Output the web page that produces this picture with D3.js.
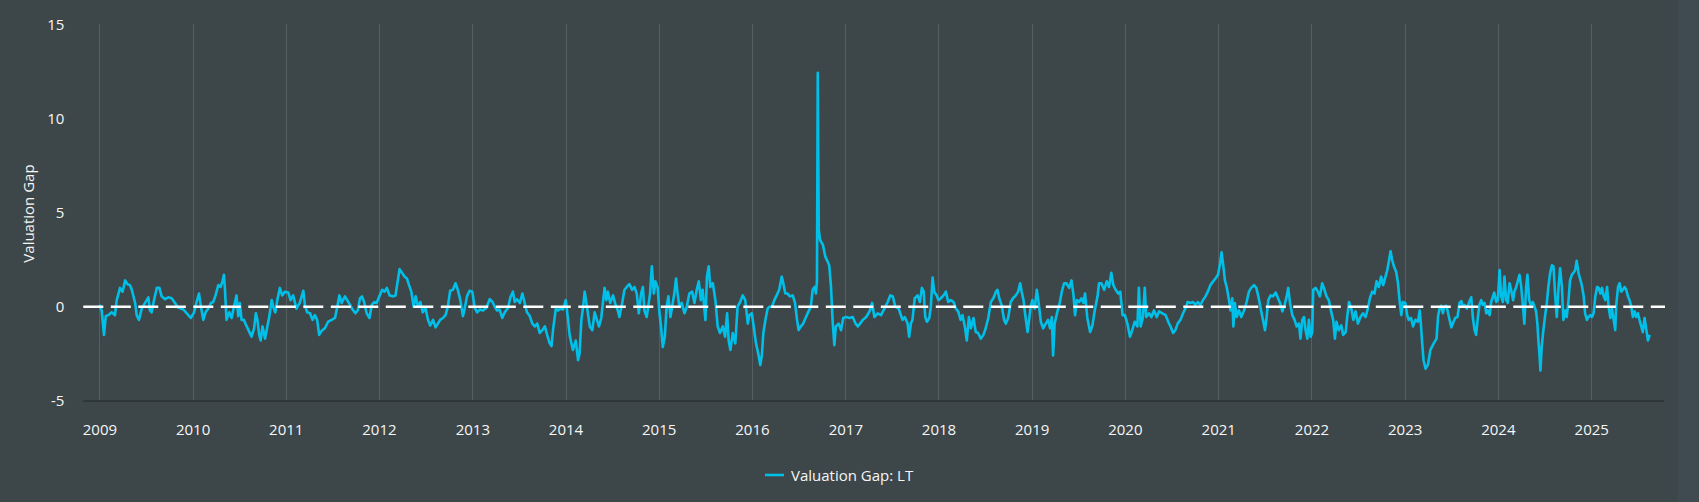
<!DOCTYPE html>
<html lang="en">
<head>
<meta charset="UTF-8">
<title>Valuation Gap: LT</title>
<script src="https://cdn.jsdelivr.net/npm/d3@7"></script>
<style>
  html, body { margin: 0; padding: 0; background: #3d4749; overflow: hidden; }
  svg { display: block; font-family: "Open Sans", "Noto Sans", sans-serif; }
</style>
</head>
<body>
<svg id="chart" width="1699" height="502"></svg>
<script>
// values, roughly every 1-2 weeks
const dates = [
  "2009-01-01","2009-01-10","2009-01-19","2009-01-26","2009-02-05","2009-02-18","2009-03-03","2009-03-10","2009-03-23","2009-04-02","2009-04-12","2009-04-21","2009-05-01","2009-05-08","2009-05-21","2009-05-27","2009-06-05","2009-06-16","2009-06-29","2009-07-12","2009-07-18","2009-07-25","2009-08-03","2009-08-14","2009-08-24","2009-09-02","2009-09-15","2009-09-28","2009-10-11","2009-10-24","2009-11-06","2009-11-26","2009-12-12","2009-12-25",
  "2010-01-07","2010-01-17","2010-01-26","2010-02-03","2010-02-12","2010-02-21","2010-03-04","2010-03-14","2010-03-23","2010-04-01","2010-04-12","2010-04-21","2010-04-29","2010-05-04","2010-05-08","2010-05-14","2010-05-25","2010-06-03","2010-06-12","2010-06-22","2010-06-29","2010-07-05","2010-07-12","2010-07-21","2010-08-01","2010-08-10","2010-08-20","2010-08-30","2010-09-06","2010-09-12","2010-09-19","2010-09-25","2010-10-02","2010-10-12","2010-10-21","2010-10-29","2010-11-07","2010-11-13","2010-11-21","2010-11-29","2010-12-09","2010-12-18","2010-12-29",
  "2011-01-11","2011-01-20","2011-01-30","2011-02-12","2011-02-25","2011-03-11","2011-03-17","2011-03-26","2011-04-06","2011-04-16","2011-04-25","2011-05-04","2011-05-12","2011-05-21","2011-06-03","2011-06-16","2011-06-30","2011-07-13","2011-07-19","2011-07-30","2011-08-08","2011-08-21","2011-09-03","2011-09-10","2011-09-20","2011-10-01","2011-10-10","2011-10-19","2011-10-27","2011-11-05","2011-11-14","2011-11-25","2011-12-04","2011-12-14","2011-12-23",
  "2012-01-04","2012-01-14","2012-01-23","2012-02-01","2012-02-12","2012-02-25","2012-03-06","2012-03-15","2012-03-22","2012-04-01","2012-04-11","2012-04-20","2012-04-28","2012-05-07","2012-05-16","2012-05-24","2012-06-02","2012-06-11","2012-06-21","2012-07-02","2012-07-11","2012-07-20","2012-07-31","2012-08-10","2012-08-19","2012-08-28","2012-09-08","2012-09-18","2012-09-27","2012-10-06","2012-10-17","2012-10-27","2012-11-05","2012-11-15","2012-11-25","2012-12-02","2012-12-11","2012-12-21",
  "2013-01-01","2013-01-10","2013-01-20","2013-01-30","2013-02-12","2013-02-25","2013-03-10","2013-03-21","2013-03-30","2013-04-08","2013-04-18","2013-04-28","2013-05-08","2013-05-21","2013-05-30","2013-06-09","2013-06-16","2013-06-25","2013-07-06","2013-07-16","2013-07-25","2013-08-03","2013-08-14","2013-08-24","2013-09-03","2013-09-12","2013-09-22","2013-10-02","2013-10-12","2013-10-21","2013-10-31","2013-11-07","2013-11-13","2013-11-24","2013-12-03","2013-12-12","2013-12-22",
  "2014-01-02","2014-01-11","2014-01-17","2014-01-24","2014-01-30","2014-02-10","2014-02-19","2014-02-25","2014-03-04","2014-03-11","2014-03-17","2014-03-26","2014-04-06","2014-04-16","2014-04-25","2014-05-04","2014-05-12","2014-05-21","2014-06-03","2014-06-10","2014-06-16","2014-06-25","2014-07-06","2014-07-16","2014-07-25","2014-07-31","2014-08-11","2014-08-20","2014-08-29","2014-09-08","2014-09-19","2014-09-28","2014-10-07","2014-10-15","2014-10-24","2014-10-31","2014-11-06","2014-11-15","2014-11-23","2014-11-28","2014-12-05","2014-12-13","2014-12-19","2014-12-28",
  "2015-01-04","2015-01-10","2015-01-17","2015-01-25","2015-02-01","2015-02-08","2015-02-16","2015-02-25","2015-03-03","2015-03-10","2015-03-16","2015-03-23","2015-04-01","2015-04-12","2015-04-21","2015-05-01","2015-05-12","2015-05-21","2015-05-30","2015-06-07","2015-06-15","2015-06-22","2015-07-03","2015-07-09","2015-07-16","2015-07-22","2015-08-01","2015-08-11","2015-08-20","2015-08-29","2015-09-09","2015-09-18","2015-09-26","2015-10-02","2015-10-09","2015-10-18","2015-10-28","2015-11-06","2015-11-16","2015-11-26","2015-12-06","2015-12-16","2015-12-22",
  "2016-01-01","2016-01-08","2016-01-17","2016-01-26","2016-02-03","2016-02-09","2016-02-15","2016-02-23","2016-03-03","2016-03-09","2016-03-20","2016-03-29","2016-04-07","2016-04-17","2016-04-27","2016-05-03","2016-05-11","2016-05-20","2016-05-29","2016-06-09","2016-06-18","2016-06-26","2016-07-02","2016-07-11","2016-07-20","2016-07-31","2016-08-10","2016-08-19","2016-08-26","2016-09-03","2016-09-08","2016-09-12","2016-09-15","2016-09-19","2016-09-24","2016-10-05","2016-10-15","2016-10-24","2016-10-30","2016-11-06","2016-11-12","2016-11-19","2016-11-25","2016-12-06","2016-12-15","2016-12-24",
  "2017-01-04","2017-01-17","2017-01-30","2017-02-10","2017-02-19","2017-02-28","2017-03-11","2017-03-24","2017-04-06","2017-04-16","2017-04-25","2017-05-08","2017-05-21","2017-06-03","2017-06-16","2017-06-26","2017-07-06","2017-07-16","2017-07-29","2017-08-13","2017-08-22","2017-09-02","2017-09-08","2017-09-15","2017-09-21","2017-09-30","2017-10-11","2017-10-20","2017-10-28","2017-11-04","2017-11-10","2017-11-17","2017-11-26","2017-12-02","2017-12-09","2017-12-15","2017-12-25",
  "2018-01-01","2018-01-10","2018-01-21","2018-01-30","2018-02-08","2018-02-18","2018-03-01","2018-03-10","2018-03-19","2018-03-29","2018-04-05","2018-04-14","2018-04-22","2018-04-30","2018-05-08","2018-05-18","2018-05-27","2018-06-05","2018-06-16","2018-06-26","2018-07-05","2018-07-15","2018-07-25","2018-08-04","2018-08-14","2018-08-20","2018-08-27","2018-09-05","2018-09-15","2018-09-22","2018-10-01","2018-10-11","2018-10-20","2018-10-31","2018-11-09","2018-11-17","2018-11-23","2018-11-30","2018-12-06","2018-12-16","2018-12-22","2018-12-28",
  "2019-01-04","2019-01-13","2019-01-21","2019-01-27","2019-02-06","2019-02-15","2019-02-25","2019-03-06","2019-03-14","2019-03-21","2019-03-26","2019-04-01","2019-04-12","2019-04-21","2019-04-29","2019-05-08","2019-05-17","2019-05-28","2019-06-06","2019-06-14","2019-06-20","2019-06-27","2019-07-06","2019-07-15","2019-07-23","2019-07-29","2019-08-07","2019-08-18","2019-08-27","2019-09-05","2019-09-16","2019-09-22","2019-10-01","2019-10-12","2019-10-22","2019-10-31","2019-11-09","2019-11-17","2019-11-26","2019-12-06","2019-12-14","2019-12-23",
  "2020-01-01","2020-01-11","2020-01-21","2020-01-30","2020-02-09","2020-02-19","2020-02-25","2020-03-03","2020-03-12","2020-03-19","2020-03-25","2020-04-05","2020-04-14","2020-04-24","2020-05-05","2020-05-14","2020-05-27","2020-06-09","2020-06-22","2020-06-28","2020-07-08","2020-07-17","2020-07-26","2020-08-06","2020-08-16","2020-08-25","2020-09-03","2020-09-14","2020-09-24","2020-10-03","2020-10-13","2020-10-23","2020-11-02","2020-11-12","2020-11-21","2020-12-01","2020-12-12","2020-12-21","2020-12-31",
  "2021-01-08","2021-01-14","2021-01-21","2021-01-27","2021-02-03","2021-02-12","2021-02-18","2021-02-25","2021-03-01","2021-03-07","2021-03-14","2021-03-23","2021-04-01","2021-04-12","2021-04-22","2021-05-01","2021-05-10","2021-05-21","2021-05-30","2021-06-07","2021-06-16","2021-06-25","2021-07-03","2021-07-09","2021-07-16","2021-07-25","2021-08-03","2021-08-14","2021-08-23","2021-08-31","2021-09-09","2021-09-18","2021-09-26","2021-10-02","2021-10-09","2021-10-18","2021-10-27","2021-11-04","2021-11-13","2021-11-19","2021-11-26","2021-12-03","2021-12-09","2021-12-16","2021-12-22","2021-12-29",
  "2022-01-04","2022-01-08","2022-01-17","2022-01-26","2022-02-03","2022-02-12","2022-02-21","2022-03-01","2022-03-10","2022-03-19","2022-03-27","2022-04-03","2022-04-09","2022-04-18","2022-04-28","2022-05-05","2022-05-15","2022-05-21","2022-05-28","2022-06-06","2022-06-14","2022-06-23","2022-07-02","2022-07-12","2022-07-22","2022-08-01","2022-08-10","2022-08-18","2022-08-27","2022-09-05","2022-09-13","2022-09-22","2022-10-01","2022-10-09","2022-10-18","2022-10-25","2022-10-31","2022-11-07","2022-11-13","2022-11-20","2022-11-29","2022-12-06","2022-12-12","2022-12-19","2022-12-25",
  "2023-01-04","2023-01-11","2023-01-17","2023-01-26","2023-02-03","2023-02-12","2023-02-22","2023-03-01","2023-03-05","2023-03-10","2023-03-16","2023-03-24","2023-04-02","2023-04-12","2023-04-25","2023-05-06","2023-05-12","2023-05-18","2023-05-24","2023-05-31","2023-06-05","2023-06-13","2023-06-18","2023-06-26","2023-07-03","2023-07-09","2023-07-18","2023-07-27","2023-08-04","2023-08-11","2023-08-17","2023-08-24","2023-09-02","2023-09-11","2023-09-19","2023-09-25","2023-10-02","2023-10-08","2023-10-15","2023-10-21","2023-10-28","2023-11-03","2023-11-10","2023-11-17","2023-11-23","2023-11-30","2023-12-06","2023-12-13","2023-12-18","2023-12-26",
  "2024-01-01","2024-01-08","2024-01-14","2024-01-21","2024-01-27","2024-02-03","2024-02-09","2024-02-16","2024-02-22","2024-03-01","2024-03-06","2024-03-13","2024-03-19","2024-03-26","2024-04-01","2024-04-08","2024-04-14","2024-04-21","2024-04-26","2024-05-03","2024-05-09","2024-05-17","2024-05-24","2024-05-30","2024-06-04","2024-06-08","2024-06-12","2024-06-16","2024-06-21","2024-06-28","2024-07-04","2024-07-11","2024-07-17","2024-07-24","2024-07-31","2024-08-06","2024-08-13","2024-08-19","2024-08-26","2024-09-01","2024-09-08","2024-09-14","2024-09-21","2024-09-27","2024-10-04","2024-10-10","2024-10-17","2024-10-23","2024-10-30","2024-11-05","2024-11-12","2024-11-18","2024-11-25","2024-12-02","2024-12-08","2024-12-15","2024-12-21","2024-12-28",
  "2025-01-04","2025-01-10","2025-01-17","2025-01-24","2025-01-30","2025-02-06","2025-02-12","2025-02-19","2025-02-25","2025-03-04","2025-03-10","2025-03-17","2025-03-23","2025-03-30","2025-04-05","2025-04-09","2025-04-16","2025-04-22","2025-04-29","2025-05-05","2025-05-12","2025-05-18","2025-05-25","2025-05-31","2025-06-07","2025-06-13","2025-06-20","2025-06-26","2025-07-03","2025-07-09","2025-07-16","2025-07-22","2025-07-29","2025-08-05","2025-08-11","2025-08-18"
];

const gapLT = [
  0.1,-0.2,-1.5,-0.5,-0.45,-0.3,-0.45,0.35,1.0,0.8,1.4,1.2,1.15,0.9,0.2,-0.45,-0.7,-0.1,0.2,0.5,-0.2,-0.3,0.35,1.0,1.0,0.55,0.4,0.5,0.45,0.2,-0.05,-0.15,-0.4,-0.6,
  -0.3,0.25,0.7,0,-0.7,-0.3,-0.1,0.2,0.25,0.6,1.15,1.05,1.4,1.7,0.9,-0.7,-0.3,-0.6,0,0.6,-0.5,0.2,-0.7,-0.7,-1.05,-1.3,-1.6,-1.15,-0.35,-0.7,-1.5,-1.8,-1.05,-1.7,-1.05,-0.5,0.35,0,-0.3,0.35,1.0,0.6,0.8,
  0.75,0.35,0.6,-0.1,0.2,0.85,0.1,-0.3,-0.35,-0.7,-0.45,-0.7,-1.5,-1.3,-1.15,-0.8,-0.7,-0.6,-0.2,0.6,0.2,0.55,0.25,0.1,-0.15,-0.35,-0.2,0.45,0.55,0.2,-0.35,-0.6,0.1,0.25,0.2,
  0.6,0.9,0.8,1.0,0.6,0.55,0.6,1.4,2.0,1.8,1.6,1.5,1.15,0.8,0,0.55,0,0.25,-0.3,-0.1,-0.7,-1.0,-0.7,-1.1,-0.9,-0.7,-0.6,-0.45,0,0.85,0.9,1.25,0.9,0.35,-0.5,-0.1,0.55,0.85,
  0.8,-0.05,-0.3,-0.15,-0.2,-0.05,0.4,0.25,0,-0.2,-0.15,-0.6,-0.3,-0.05,0.5,0.8,0.25,0.4,0.2,0.7,0.2,-0.3,-0.5,-0.9,-1.05,-0.9,-1.4,-1.25,-1.05,-1.5,-1.95,-2.1,-1.25,-0.1,-0.2,-0.1,-0.15,
  0.35,-0.7,-1.5,-1.95,-2.3,-1.8,-2.85,-2.5,-0.7,0,0.8,0,-1.05,-1.25,-0.3,-0.7,-1.05,-0.6,1.0,0.35,0.8,0.2,0.6,0.1,-0.2,-0.55,0.2,0.9,1.05,1.2,0.9,1.05,0.7,-0.35,0.7,1.05,-0.2,-0.55,0.2,0.7,2.15,0.7,1.35,1.0,
  -0.35,-1.05,-2.15,-1.6,0,0.55,-0.55,0.2,0.7,1.5,0.7,0,0.2,-0.35,0,0.7,0.8,0.2,0.9,1.35,0.35,0.9,-0.7,1.6,2.15,1.05,1.25,0.35,-1.05,-1.4,-1.05,-1.6,-0.35,-1.8,-2.3,-1.4,-1.95,0,0.25,0.6,0.35,-0.9,-0.45,
  -0.35,-1.05,-1.95,-2.5,-3.1,-2.6,-1.4,-0.7,-0.1,0,0,0.35,0.6,0.9,1.6,1.25,0.7,0.7,0.55,0.6,0.2,-0.7,-1.25,-1.05,-0.9,-0.55,-0.25,0,0.9,1.05,0.7,1.4,12.45,4.1,3.55,3.3,2.65,2.4,2.2,1.05,-0.7,-2.05,-1.05,-0.9,-1.25,-0.6,
  -0.55,-0.6,-0.55,-0.9,-1.05,-0.9,-0.7,-0.55,-0.25,0.2,-0.55,-0.35,-0.45,-0.1,0.25,0.6,0.55,0,-0.1,-0.7,-0.55,-0.9,-1.6,-0.9,-0.7,0.45,0.6,0.25,1.0,0.8,-0.55,-0.8,-0.6,0,1.55,0.8,0.6,
  0.35,0.45,0.6,0.8,0.25,0.35,0.25,-0.1,-0.25,-0.7,-0.45,-1.05,-1.8,-0.55,-1.15,-0.6,-1.35,-1.4,-1.7,-1.5,-1.15,-0.6,0.25,0.45,0.8,0.9,0.45,0.1,-0.7,-0.9,-0.6,0.25,0.45,0.6,0.8,1.25,0.8,0.35,-0.35,-1.35,-0.7,0,
  0.35,-0.1,0.9,0.35,-0.8,-1.15,-0.9,-0.7,-1.15,-0.55,-2.6,-0.9,-0.25,0.2,0.8,1.25,1.25,1.0,1.4,0.6,-0.45,0.35,0.25,0.45,0.2,0.7,-0.6,-1.35,-1.0,-0.2,0.55,1.25,1.25,0.9,1.35,1.05,1.8,1.15,0.9,0.7,0.8,-0.45,
  -0.45,-0.9,-1.6,-1.25,-0.8,-1.05,1.0,-1.05,-0.55,1.0,-0.55,-0.35,-0.55,-0.2,-0.55,-0.25,-0.35,-0.45,-0.9,-1.05,-1.4,-1.25,-0.9,-0.7,-0.35,-0.1,0.25,0.2,0.25,0.1,0.25,0.1,0.35,0.55,0.8,1.15,1.35,1.5,1.7,
  2.3,2.9,2.15,1.4,1.05,0.35,-0.2,0.45,-1.05,0.2,-0.55,-0.2,-0.55,-0.2,0.25,0.8,1.0,1.15,1.0,0.55,-0.1,-0.7,-1.25,-0.6,0.35,0.6,0.55,0.75,0.45,0.2,-0.25,0.1,0.55,1.0,0.2,-0.45,-0.7,-1.05,-0.9,-1.7,-0.7,-0.55,-1.25,-1.7,-0.7,-1.6,
  -1.35,0.9,1.0,0.8,0.55,1.25,0.9,0.55,0.35,-0.25,-0.7,-1.7,-0.8,-1.25,-1.0,-1.5,-1.35,-0.55,0.25,-0.1,-0.7,-0.25,-0.9,-0.55,-0.35,-0.55,-0.1,0.45,0.8,0.7,1.35,1.05,1.6,1.15,1.6,1.95,2.4,2.95,2.5,2.15,1.85,1.25,0.35,-0.45,0.25,
  0.2,-0.45,-0.7,-0.6,-1.05,-0.7,-0.8,-0.2,-0.8,-1.8,-2.85,-3.3,-3.1,-2.3,-1.95,-1.7,-0.5,-0.1,0.05,-0.35,0,0.05,-0.2,-0.7,-1.1,-0.9,-0.6,-0.55,0.2,0.3,0,0.1,-0.1,0.25,0.5,-0.55,-1.25,-1.5,-0.55,0.1,0.35,0.1,0.2,-0.35,-0.2,-0.45,0.25,0.55,0.75,0.25,
  0.35,1.95,0.55,0.25,1.6,0.35,0.2,1.25,0.9,0.35,0.8,1.05,1.35,1.7,1.15,0.1,-0.9,1.05,1.7,0.35,0.1,0.25,0,-0.25,-0.9,-1.8,-2.5,-3.4,-2.1,-1.2,-0.5,0.2,1.05,1.8,2.2,2.15,0.55,-0.55,1.05,2.05,1.05,-0.7,-0.2,-0.55,0.35,1.4,1.7,1.8,1.95,2.45,1.8,1.5,1.15,0.6,-0.35,-0.7,-0.55,-0.45,
  -0.55,-0.35,0.55,1.05,1.0,0.7,1.0,0.55,0.35,1.05,0,-0.6,-0.1,-0.7,-1.25,0.1,1.05,1.25,0.8,0.9,1.05,0.9,0.55,0.35,0,-0.55,-0.25,-0.55,-0.35,-0.7,-1.05,-1.35,-0.6,-1.25,-1.8,-1.5
];

const yearTicks = ["2009","2010","2011","2012","2013","2014","2015","2016","2017","2018","2019","2020","2021","2022","2023","2024","2025"];
const yTicks = [-5, 0, 5, 10, 15];
const seriesName = "Valuation Gap: LT";
const yTitle = "Valuation Gap";

const W = 1699, H = 502;
const plotLeft = 83.3, plotRight = 1664, plotTop = 25, plotBottom = 400.6;
const bg = "#3d4749", lineColor = "#00bfe8", textColor = "#f6f6f6";

const parse = d3.timeParse("%Y-%m-%d");
const data = dates.map((d, i) => ({ date: parse(d), v: gapLT[i] }));

const svg = d3.select("#chart");
svg.append("rect").attr("width", W).attr("height", H).attr("fill", bg);
// the page scrollbar strip on the right edge
svg.append("rect").attr("x", 1678).attr("width", W - 1678).attr("height", H).attr("fill", "#3f4b50");

const first = data[0].date, last = data[data.length - 1].date;
const x = d3.scaleTime()
  .domain([d3.timeDay.offset(first, -63), d3.timeDay.offset(last, 56)])
  .range([plotLeft, plotRight]);
const y = d3.scaleLinear().domain([-5, 15]).range([plotBottom, plotTop]);

const yearDates = yearTicks.map(t => parse(t + "-01-01"));

// vertical year grid
svg.append("g")
  .selectAll("line")
  .data(yearDates)
  .join("line")
  .attr("x1", d => Math.round(x(d)) + 0.5)
  .attr("x2", d => Math.round(x(d)) + 0.5)
  .attr("y1", plotTop - 1)
  .attr("y2", plotBottom)
  .attr("stroke", "#555f61")
  .attr("stroke-width", 1);

// bottom axis line
svg.append("line")
  .attr("x1", plotLeft).attr("x2", plotRight)
  .attr("y1", plotBottom + 0.5).attr("y2", plotBottom + 0.5)
  .attr("stroke", "#2b3234")
  .attr("stroke-width", 1.5);

// series
const line = d3.line()
  .x(d => x(d.date))
  .y(d => y(d.v));

svg.append("path")
  .datum(data)
  .attr("d", line)
  .attr("fill", "none")
  .attr("stroke", lineColor)
  .attr("stroke-width", 2.6)
  .attr("stroke-linejoin", "round");

// dashed zero line
svg.append("line")
  .attr("x1", plotLeft).attr("x2", plotRight + 1)
  .attr("y1", y(0)).attr("y2", y(0))
  .attr("stroke", "#ffffff")
  .attr("stroke-width", 2.5)
  .attr("stroke-dasharray", "20,7.5");

// axes
const xAxis = svg.append("g")
  .attr("transform", `translate(0,${plotBottom})`)
  .call(d3.axisBottom(x).tickValues(yearDates).tickFormat(d3.timeFormat("%Y")).tickSize(0).tickPadding(23.5));
xAxis.select(".domain").remove();

const yAxis = svg.append("g")
  .attr("transform", `translate(${plotLeft},0)`)
  .call(d3.axisLeft(y).tickValues(yTicks).tickFormat(d => String(d)).tickSize(0).tickPadding(19));
yAxis.select(".domain").remove();

svg.selectAll(".tick text")
  .attr("fill", textColor)
  .style("font-size", "15px")
  .style("font-family", "'Open Sans', 'Noto Sans', sans-serif");

svg.append("text")
  .attr("transform", "translate(28.5,213.5) rotate(-90)")
  .attr("text-anchor", "middle")
  .attr("dy", "0.35em")
  .attr("fill", textColor)
  .style("font-size", "15px")
  .text(yTitle);

// legend
const legend = svg.append("g").attr("transform", "translate(765,475)");
legend.append("line")
  .attr("x1", 0).attr("x2", 19)
  .attr("stroke", lineColor)
  .attr("stroke-width", 2.6);
legend.append("text")
  .attr("x", 26)
  .attr("y", 5.5)
  .attr("fill", textColor)
  .style("font-size", "15px")
  .text(seriesName);
</script>
</body>
</html>
